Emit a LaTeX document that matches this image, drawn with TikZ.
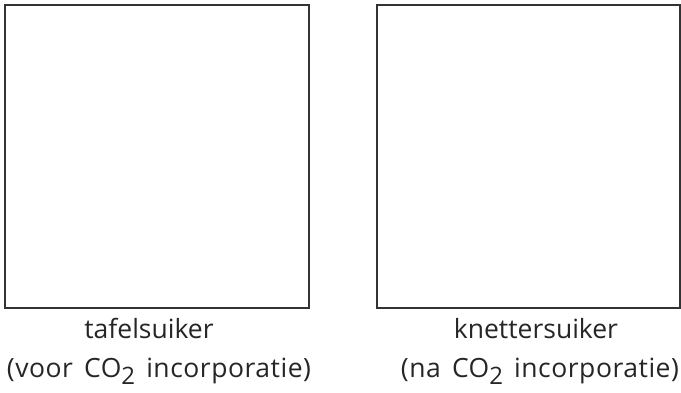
\documentclass[tikz,border=0pt]{standalone}
\usepackage{fontspec}
\setmainfont{Open Sans}
\newfontfamily\widesp[WordSpace=1.5,LetterSpace=2]{Open Sans}
\newcommand{\lowtwo}{\raisebox{-7pt}{\fontsize{24}{26}\selectfont 2}}
\begin{document}
\begin{tikzpicture}[x=1pt,y=-1pt,
  box/.style={draw=black!80,line width=2pt},
  lbl/.style={anchor=base,inner sep=0pt,font=\fontsize{26.5}{30}\selectfont,text=black!85},
  lblw/.style={lbl,font=\widesp\fontsize{26.5}{30}\selectfont}]
\useasboundingbox (0,0) rectangle (681,392);
\draw[box] (5,5) rectangle (309,308);
\draw[box] (377,5) rectangle (680,308);
\node[lbl] (t1) at (149,338) {tafelsuiker};
\node[lblw] (t2) at (159,377) {(voor CO\lowtwo\ incorporatie)};
\node[lbl] (t3) at (536,338) {knettersuiker};
\node[lblw] (t4) at (540,377) {(na CO\lowtwo\ incorporatie)};
\end{tikzpicture}
\end{document}
